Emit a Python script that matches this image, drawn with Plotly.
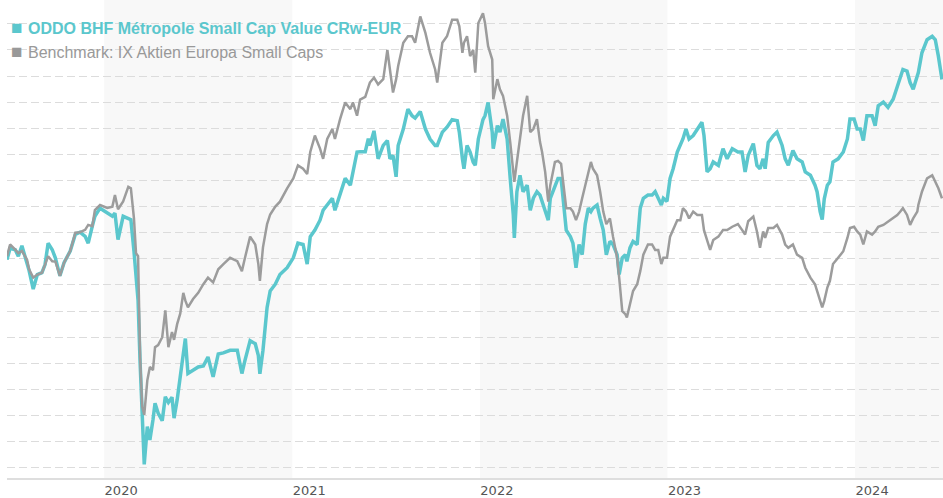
import plotly.graph_objects as go

dates = [
    "2019-06-26", "2019-07-02", "2019-07-12", "2019-07-18", "2019-07-25", "2019-08-04", "2019-08-08", "2019-08-16",
    "2019-08-24", "2019-09-02", "2019-09-08", "2019-09-14", "2019-09-22", "2019-09-28", "2019-10-07", "2019-10-15",
    "2019-10-27", "2019-11-06", "2019-11-15", "2019-11-25", "2019-12-01", "2019-12-09", "2019-12-14", "2019-12-24",
    "2020-01-07", "2020-01-17", "2020-01-22", "2020-01-28", "2020-02-07", "2020-02-17", "2020-02-22", "2020-02-28",
    "2020-03-03", "2020-03-07", "2020-03-11", "2020-03-15", "2020-03-19", "2020-03-25", "2020-03-30", "2020-04-05",
    "2020-04-09", "2020-04-15", "2020-04-23", "2020-04-29", "2020-05-05", "2020-05-12", "2020-05-16", "2020-05-22",
    "2020-05-28", "2020-06-03", "2020-06-07", "2020-06-12", "2020-06-22", "2020-07-02", "2020-07-12", "2020-07-21",
    "2020-07-31", "2020-08-10", "2020-08-20", "2020-09-02", "2020-09-16", "2020-09-25", "2020-10-01", "2020-10-11",
    "2020-10-21", "2020-10-27", "2020-10-30", "2020-11-05", "2020-11-13", "2020-11-19", "2020-11-29", "2020-12-08",
    "2020-12-22", "2021-01-03", "2021-01-12", "2021-01-22", "2021-01-30", "2021-02-05", "2021-02-14", "2021-02-24",
    "2021-03-02", "2021-03-10", "2021-03-20", "2021-03-25", "2021-04-04", "2021-04-14", "2021-04-24", "2021-04-29",
    "2021-05-07", "2021-05-13", "2021-05-23", "2021-05-29", "2021-06-01", "2021-06-09", "2021-06-17", "2021-06-27",
    "2021-07-05", "2021-07-10", "2021-07-16", "2021-07-22", "2021-07-26", "2021-08-05", "2021-08-14", "2021-08-22",
    "2021-08-28", "2021-09-07", "2021-09-17", "2021-09-26", "2021-10-06", "2021-10-10", "2021-10-20", "2021-10-29",
    "2021-11-08", "2021-11-18", "2021-11-22", "2021-11-28", "2021-12-01", "2021-12-07", "2021-12-13", "2021-12-19",
    "2021-12-23", "2021-12-29", "2022-01-07", "2022-01-11", "2022-01-17", "2022-01-25", "2022-01-27", "2022-02-04",
    "2022-02-09", "2022-02-15", "2022-02-23", "2022-03-01", "2022-03-07", "2022-03-09", "2022-03-14", "2022-03-20",
    "2022-03-26", "2022-04-03", "2022-04-09", "2022-04-15", "2022-04-22", "2022-04-28", "2022-05-02", "2022-05-08",
    "2022-05-14", "2022-05-18", "2022-05-27", "2022-06-02", "2022-06-08", "2022-06-12", "2022-06-18", "2022-06-26",
    "2022-07-01", "2022-07-07", "2022-07-13", "2022-07-19", "2022-07-25", "2022-07-31", "2022-08-05", "2022-08-09",
    "2022-08-17", "2022-08-23", "2022-08-29", "2022-09-04", "2022-09-11", "2022-09-17", "2022-09-25", "2022-09-29",
    "2022-10-05", "2022-10-11", "2022-10-14", "2022-10-20", "2022-10-26", "2022-11-03", "2022-11-09", "2022-11-15",
    "2022-11-24", "2022-12-02", "2022-12-08", "2022-12-14", "2022-12-20", "2022-12-24", "2022-12-31", "2023-01-06",
    "2023-01-12", "2023-01-20", "2023-01-26", "2023-01-31", "2023-02-06", "2023-02-12", "2023-02-20", "2023-02-28",
    "2023-03-09", "2023-03-13", "2023-03-19", "2023-03-25", "2023-03-31", "2023-04-10", "2023-04-19", "2023-04-27",
    "2023-05-07", "2023-05-18", "2023-05-26", "2023-06-01", "2023-06-07", "2023-06-17", "2023-06-24", "2023-06-30",
    "2023-07-06", "2023-07-10", "2023-07-16", "2023-07-26", "2023-08-02", "2023-08-12", "2023-08-18", "2023-08-24",
    "2023-09-02", "2023-09-10", "2023-09-20", "2023-09-26", "2023-10-06", "2023-10-15", "2023-10-19", "2023-10-25",
    "2023-10-29", "2023-11-02", "2023-11-08", "2023-11-13", "2023-11-19", "2023-11-29", "2023-12-09", "2023-12-17",
    "2023-12-22", "2023-12-30", "2024-01-05", "2024-01-11", "2024-01-17", "2024-01-24", "2024-02-03", "2024-02-09",
    "2024-02-15", "2024-02-25", "2024-03-05", "2024-03-15", "2024-03-23", "2024-03-29", "2024-04-03", "2024-04-11",
    "2024-04-17", "2024-04-23", "2024-05-01", "2024-05-03", "2024-05-10", "2024-05-20", "2024-05-30", "2024-06-05",
    "2024-06-11", "2024-06-18",
]

fund = [
    99.7, 104.0, 103.5, 101.0, 105.0, 98.5, 95.5, 88.4,
    94.0, 94.7, 97.8, 106.0, 103.5, 100.4, 93.5, 98.5,
    103.0, 109.4, 110.2, 108.6, 106.0, 112.5, 116.3, 119.4,
    117.5, 116.3, 117.5, 107.4, 116.3, 115.5, 115.0, 103.0,
    91.6, 84.0, 60.0, 36.0, 21.3, 35.8, 30.7, 38.4,
    44.7, 41.0, 38.0, 47.2, 45.0, 47.0, 39.0, 46.0,
    54.8, 63.6, 69.5, 56.1, 57.4, 58.6, 59.0, 62.4,
    54.8, 63.6, 64.0, 65.0, 65.0, 56.1, 61.1, 68.7,
    67.5, 63.0, 56.0, 65.0, 81.4, 87.7, 90.3, 94.0,
    96.6, 100.4, 106.0, 105.5, 98.0, 108.5, 111.0, 114.8,
    118.6, 120.6, 123.2, 118.6, 124.4, 130.8, 128.2, 133.3,
    140.9, 141.0, 141.0, 146.0, 143.4, 149.0, 138.3, 143.4,
    145.3, 138.3, 139.6, 131.4, 143.4, 149.7, 157.3, 154.8,
    153.9, 156.4, 149.7, 145.9, 143.4, 143.4, 148.5, 150.4,
    153.3, 152.9, 148.5, 138.3, 134.5, 143.4, 140.9, 137.0,
    135.8, 145.9, 153.3, 154.8, 159.9, 148.5, 142.2, 151.0,
    148.5, 153.5, 145.9, 130.8, 116.8, 108.0, 125.7, 132.0,
    125.7, 128.2, 118.6, 123.2, 125.7, 124.4, 121.9, 118.6,
    114.8, 123.2, 128.2, 130.8, 130.8, 123.2, 111.0, 108.5,
    106.0, 96.6, 105.5, 101.6, 113.3, 119.4, 118.1, 119.4,
    120.6, 115.5, 111.0, 101.6, 106.7, 105.5, 101.6, 94.0,
    100.4, 101.6, 99.0, 104.2, 106.7, 105.5, 119.4, 123.2,
    124.4, 124.4, 125.7, 123.2, 120.6, 123.2, 122.0, 130.8,
    134.5, 140.9, 143.4, 145.9, 149.7, 145.9, 147.2, 149.7,
    152.3, 147.2, 133.3, 134.5, 137.1, 135.8, 142.2, 138.3,
    142.2, 140.9, 140.9, 133.3, 139.6, 144.1, 135.8, 134.5,
    138.3, 134.5, 144.6, 147.2, 148.5, 143.4, 138.3, 135.8,
    141.5, 138.3, 137.1, 133.3, 132.0, 128.2, 125.7, 118.1,
    115.0, 123.0, 128.2, 129.5, 137.1, 138.3, 140.9, 145.9,
    153.5, 153.5, 149.7, 149.7, 145.3, 154.8, 154.8, 151.0,
    158.6, 160.0, 158.0, 161.1, 166.2, 170.0, 172.5, 171.9,
    167.5, 164.9, 170.0, 171.3, 178.9, 183.9, 185.2, 183.9,
    177.6, 168.7,
]

benchmark = [
    101.0, 105.5, 103.5, 102.2, 103.0, 99.7, 96.0, 92.8,
    94.0, 94.7, 97.8, 101.0, 99.1, 99.0, 93.5, 98.5,
    103.0, 110.0, 110.2, 111.1, 113.0, 112.5, 118.7, 120.6,
    119.5, 120.0, 124.4, 119.0, 122.0, 127.6, 127.0, 115.5,
    102.2, 101.0, 62.0, 43.4, 40.3, 53.5, 58.6, 57.4,
    66.2, 67.0, 70.0, 80.3, 66.2, 72.0, 69.0, 75.0,
    79.0, 87.0, 84.0, 81.4, 84.6, 87.0, 90.3, 92.8,
    91.0, 96.0, 98.0, 100.4, 99.1, 95.3, 100.4, 108.5,
    105.5, 98.0, 91.6, 104.4, 113.3, 117.0, 120.0, 121.9,
    127.0, 130.8, 135.8, 134.5, 132.5, 140.9, 147.2, 142.2,
    138.3, 145.9, 149.7, 145.9, 153.5, 159.9, 157.3, 159.9,
    154.8, 161.0, 162.0, 166.2, 167.5, 169.4, 166.8, 168.8,
    180.0, 172.5, 163.7, 168.7, 173.8, 182.7, 185.2, 185.2,
    182.7, 192.8, 186.5, 178.9, 172.5, 167.5, 182.7, 185.2,
    191.5, 191.5, 189.0, 178.9, 182.7, 185.2, 177.6, 180.0,
    171.3, 190.3, 194.0, 190.3, 181.4, 176.3, 161.1, 168.8,
    164.9, 162.4, 154.8, 144.7, 130.8, 129.5, 137.1, 146.0,
    154.8, 162.4, 148.5, 149.7, 153.5, 144.7, 140.9, 133.3,
    121.9, 128.2, 137.1, 137.5, 136.4, 129.5, 119.4, 119.4,
    118.1, 114.8, 118.1, 123.2, 128.2, 133.3, 137.1, 134.5,
    132.0, 125.7, 118.1, 113.3, 115.5, 108.5, 100.4, 92.8,
    80.0, 78.8, 77.6, 82.6, 87.7, 90.3, 95.3, 101.6,
    105.5, 105.5, 103.4, 103.4, 98.0, 100.4, 100.4, 108.5,
    111.0, 114.8, 114.8, 119.4, 118.1, 115.5, 118.1, 116.8,
    116.8, 111.0, 107.2, 103.4, 107.2, 108.5, 111.0, 111.0,
    112.3, 113.3, 111.1, 109.3, 114.4, 116.2, 110.5, 104.2,
    110.5, 108.0, 111.8, 111.8, 113.0, 109.3, 105.5, 104.2,
    105.5, 101.6, 100.4, 96.6, 92.8, 90.3, 87.7, 83.9,
    81.4, 83.9, 89.0, 91.6, 98.0, 100.4, 102.9, 108.0,
    111.8, 112.3, 110.5, 109.3, 105.5, 110.5, 109.3, 110.5,
    112.3, 113.0, 114.3, 115.5, 116.8, 118.1, 119.4, 116.8,
    113.0, 115.5, 118.1, 120.6, 125.7, 130.8, 132.0, 129.5,
    127.0, 123.2,
]

fund_name = "ODDO BHF Métropole Small Cap Value CRw-EUR"
bench_name = "Benchmark: IX Aktien Europa Small Caps"
year_ticks = ["2020-01-01", "2021-01-01", "2022-01-01", "2023-01-01", "2024-01-01"]
year_labels = ["2020", "2021", "2022", "2023", "2024"]
shaded_periods = [("2020-01-01", "2021-01-01"), ("2022-01-01", "2023-01-01"), ("2024-01-01", "2024-06-20")]
x_range = ["2019-06-26", "2024-06-20"]

TEAL = "#5bc7cd"
GREY = "#9c9c9c"

fig = go.Figure()
fig.add_trace(go.Scatter(x=dates, y=fund, mode="lines", name=fund_name,
                         line=dict(color=TEAL, width=3.5)))
fig.add_trace(go.Scatter(x=dates, y=benchmark, mode="lines", name=bench_name,
                         line=dict(color=GREY, width=2.5)))

for x0, x1 in shaded_periods:
    fig.add_vrect(x0=x0, x1=x1, fillcolor="#f8f8f8", opacity=1, line_width=0, layer="below")

fig.update_layout(
    width=943, height=498,
    margin=dict(l=7, r=0, t=0, b=16),
    plot_bgcolor="white", paper_bgcolor="white",
    showlegend=False,
    font=dict(family="Liberation Sans, Arial, sans-serif"),
    xaxis=dict(range=x_range, tickvals=year_ticks, ticktext=year_labels,
               showgrid=False, zeroline=False, showline=True, linecolor="#dedede", linewidth=1.5,
               ticks="", ticklabelshift=17,
               tickfont=dict(family="DejaVu Sans", size=13, color="#555555")),
    yaxis=dict(range=[16.1, 199.1], tick0=0, dtick=10, showticklabels=False,
               showgrid=True, gridcolor="#dcdcdc", gridwidth=1, griddash="8px,4px",
               zeroline=False, showline=False),
)

legend_items = [(fund_name, TEAL, True, 0.9394), (bench_name, "#999999", False, 0.8907)]
for text, color, bold, ypos in legend_items:
    fig.add_annotation(xref="paper", yref="paper", x=0, y=ypos, xanchor="left", yanchor="middle",
                       xshift=2, yshift=1, text="■", showarrow=False,
                       font=dict(family="Liberation Sans, Arial", size=19, color=color))
    fig.add_annotation(xref="paper", yref="paper", x=0, y=ypos, xanchor="left", yanchor="middle",
                       xshift=19, text=f"<b>{text}</b>" if bold else text, showarrow=False,
                       font=dict(family="Liberation Sans, Arial", size=16, color=color))

fig.write_html("out.html", config={"displayModeBar": False},
               post_script="document.body.style.margin='0';document.body.style.overflow='hidden';")
